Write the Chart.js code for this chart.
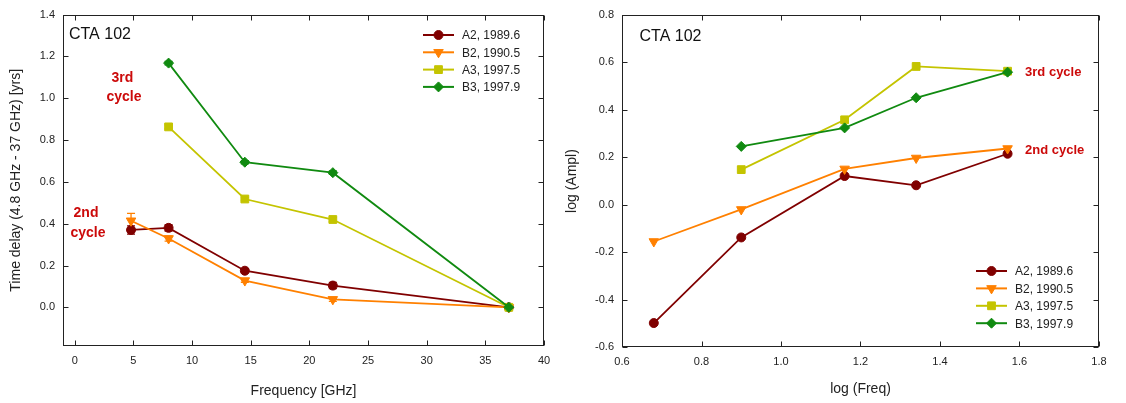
<!DOCTYPE html>
<html>
<head>
<meta charset="utf-8">
<title>CTA 102 time delays</title>
<script src="https://cdn.jsdelivr.net/npm/chart.js@4.4.0/dist/chart.umd.min.js"></script>
<style>
  body { margin: 0; background: #fff; }
  #left { position: absolute; left: 0; top: 0; width: 560px; height: 403px; }
  #right { position: absolute; left: 560px; top: 0; width: 566px; height: 403px; }
</style>
</head>
<body>
<div id="left"><canvas id="delay"></canvas></div>
<div id="right"><canvas id="ampl"></canvas></div>
<script>
// series
const seriesNames = ['A2, 1989.6', 'B2, 1990.5', 'A3, 1997.5', 'B3, 1997.9'];
const freqs = [4.8, 8.0, 14.5, 22, 37];

const delayA2 = [0.370, 0.380, 0.175, 0.104, 0.0];
const delayA2Err = [0.020, 0.015, 0.010, 0.015, 0];
const delayB2 = [0.414, 0.329, 0.128, 0.038, 0.0];
const delayB2Err = [0.035, 0.012, 0.008, 0.010, 0];
const delayA3 = [null, 0.863, 0.518, 0.420, 0.0];
const delayA3Err = [0, 0.010, 0.008, 0.010, 0];
const delayB3 = [null, 1.168, 0.694, 0.644, 0.0];
const delayB3Err = [0, 0.008, 0.008, 0.008, 0];

const logFreq = [0.68, 0.90, 1.16, 1.34, 1.57];
const amplA2 = [-0.499, -0.138, 0.121, 0.082, 0.215];
const amplB2 = [-0.155, -0.020, 0.151, 0.197, 0.237];
const amplA3 = [null, 0.148, 0.358, 0.583, 0.563];
const amplB3 = [null, 0.246, 0.324, 0.451, 0.559];

const delayXTicks = [0, 5, 10, 15, 20, 25, 30, 35, 40];
const delayYTicks = [0.0, 0.2, 0.4, 0.6, 0.8, 1.0, 1.2, 1.4];
const amplXTicks = [0.6, 0.8, 1.0, 1.2, 1.4, 1.6, 1.8];
const amplYTicks = [-0.6, -0.4, -0.2, 0.0, 0.2, 0.4, 0.6, 0.8];

const colors = ['#800000', '#ff8000', '#c4c400', '#108a10'];
const markers = [
  { style: 'circle', radius: 4.5, rotation: 0 },
  { style: 'triangle', radius: 5.5, rotation: 180 },
  { style: 'rect', radius: 5.5, rotation: 0 },
  { style: 'rectRot', radius: 5, rotation: 0 }
];

const FONT = '"Liberation Sans", Arial, Helvetica, sans-serif';
Chart.defaults.font.family = FONT;
Chart.defaults.color = '#222';

function pts(xs, ys, errs) {
  return xs.map((x, i) => ({ x: x, y: ys[i], e: errs ? errs[i] : 0 }))
           .filter(p => p.y !== null);
}

function makeSets(xs, ys, errs) {
  return ys.map((vals, i) => ({
    label: seriesNames[i],
    data: pts(xs, vals, errs ? errs[i] : null),
    borderColor: colors[i],
    backgroundColor: colors[i],
    borderWidth: 1.8,
    pointStyle: markers[i].style,
    pointRadius: markers[i].radius,
    pointHoverRadius: markers[i].radius,
    pointRotation: markers[i].rotation,
    pointBorderWidth: 1,
    order: 3 - i,
    clip: false
  }));
}

// box around the plot with inward ticks on all four sides
const frame = {
  id: 'frame',
  afterDraw(chart) {
    const { ctx, chartArea: a, scales: { x, y } } = chart;
    const L = Math.round(a.left) + 0.5, R = Math.round(a.right) - 0.5;
    const T = Math.round(a.top) + 0.5, B = Math.round(a.bottom) - 0.5;
    ctx.save();
    ctx.strokeStyle = '#222';
    ctx.lineWidth = 1;
    ctx.beginPath();
    x.ticks.forEach(t => {
      const px = Math.round(x.getPixelForValue(t.value)) + 0.5;
      ctx.moveTo(px, B); ctx.lineTo(px, B - 5);
      ctx.moveTo(px, T); ctx.lineTo(px, T + 5);
    });
    y.ticks.forEach(t => {
      const py = Math.round(y.getPixelForValue(t.value)) + 0.5;
      ctx.moveTo(L, py); ctx.lineTo(L + 5, py);
      ctx.moveTo(R, py); ctx.lineTo(R - 5, py);
    });
    ctx.stroke();
    ctx.strokeRect(L, T, R - L, B - T);
    ctx.restore();
  }
};

const errorBars = {
  id: 'errorBars',
  beforeDatasetsDraw(chart) {
    const { ctx, scales: { x, y } } = chart;
    chart.data.datasets.forEach(ds => {
      ctx.save();
      ctx.strokeStyle = ds.borderColor;
      ctx.lineWidth = 1.3;
      ctx.beginPath();
      ds.data.forEach(p => {
        if (!p.e) return;
        const px = x.getPixelForValue(p.x);
        const y1 = y.getPixelForValue(p.y - p.e), y2 = y.getPixelForValue(p.y + p.e);
        ctx.moveTo(px, y1); ctx.lineTo(px, y2);
        ctx.moveTo(px - 4, y1); ctx.lineTo(px + 4, y1);
        ctx.moveTo(px - 4, y2); ctx.lineTo(px + 4, y2);
      });
      ctx.stroke();
      ctx.restore();
    });
  }
};

function drawMarker(ctx, m, x, y) {
  if (Chart.helpers && Chart.helpers.drawPoint) {
    Chart.helpers.drawPoint(ctx, { pointStyle: m.style, radius: m.radius, rotation: m.rotation, borderWidth: 1 }, x, y);
  } else {
    ctx.beginPath(); ctx.arc(x, y, m.radius, 0, Math.PI * 2); ctx.fill(); ctx.stroke();
  }
}

// legend drawn inside the plot, line + marker + label
const keyBox = {
  id: 'keyBox',
  afterDraw(chart, args, opts) {
    const ctx = chart.ctx;
    ctx.save();
    ctx.font = '12px ' + FONT;
    ctx.textBaseline = 'middle';
    ctx.textAlign = 'left';
    chart.data.datasets.forEach((ds, i) => {
      const yy = opts.y + i * opts.step;
      ctx.strokeStyle = ds.borderColor;
      ctx.fillStyle = ds.borderColor;
      ctx.lineWidth = 2;
      ctx.beginPath();
      ctx.moveTo(opts.x, yy); ctx.lineTo(opts.x + 31, yy);
      ctx.stroke();
      ctx.lineWidth = 1;
      drawMarker(ctx, markers[i], opts.x + 15.5, yy);
      ctx.fillStyle = '#222';
      ctx.fillText(ds.label, opts.x + 39, yy + 1);
    });
    ctx.restore();
  }
};

// free text, placed in data coordinates
const notes = {
  id: 'notes',
  afterDraw(chart, args, opts) {
    const { ctx, scales: { x, y } } = chart;
    ctx.save();
    ctx.textBaseline = 'middle';
    opts.items.forEach(n => {
      ctx.font = n.font;
      ctx.fillStyle = n.color;
      ctx.textAlign = n.align;
      ctx.fillText(n.text, x.getPixelForValue(n.x), y.getPixelForValue(n.y));
    });
    ctx.restore();
  }
};

function axis(min, max, tickVals, fmt, fit, title, titlePad) {
  return {
    type: 'linear',
    min: min,
    max: max,
    afterBuildTicks: s => { s.ticks = tickVals.map(v => ({ value: v })); },
    afterFit: fit,
    grid: { display: false, drawTicks: false },
    border: { display: false },
    ticks: { padding: 8, color: '#222', font: { size: 11 }, maxRotation: 0, callback: fmt },
    title: { display: true, text: title, color: '#222', font: { size: 14 }, padding: titlePad }
  };
}

const RED = '#cc0a0a';

new Chart(document.getElementById('delay'), {
  type: 'line',
  data: { datasets: makeSets(freqs, [delayA2, delayB2, delayA3, delayB3], [delayA2Err, delayB2Err, delayA3Err, delayB3Err]) },
  options: {
    responsive: true,
    maintainAspectRatio: false,
    animation: false,
    devicePixelRatio: 1,
    layout: { padding: { left: 0, right: 16, top: 12, bottom: 0 } },
    scales: {
      x: axis(-1, 40, delayXTicks, v => String(v), s => { s.height = 57; }, 'Frequency [GHz]', { top: 0, bottom: 3 }),
      y: axis(-0.185, 1.4, delayYTicks, v => v.toFixed(1), s => { s.width = 63; }, 'Time delay (4.8 GHz - 37 GHz) [yrs]', { top: 8, bottom: 0 })
    },
    plugins: {
      legend: { display: false },
      tooltip: { enabled: false },
      keyBox: { x: 423, y: 35, step: 17.3 },
      notes: {
        items: [
          { text: 'CTA 102', x: -0.49, y: 1.305, font: '16px ' + FONT, color: '#111', align: 'left' },
          { text: '3rd', x: 4.07, y: 1.098, font: 'bold 14px ' + FONT, color: RED, align: 'center' },
          { text: 'cycle', x: 4.2, y: 1.006, font: 'bold 14px ' + FONT, color: RED, align: 'center' },
          { text: '2nd', x: 0.96, y: 0.451, font: 'bold 14px ' + FONT, color: RED, align: 'center' },
          { text: 'cycle', x: 1.13, y: 0.356, font: 'bold 14px ' + FONT, color: RED, align: 'center' }
        ]
      }
    }
  },
  plugins: [errorBars, frame, keyBox, notes]
});

new Chart(document.getElementById('ampl'), {
  type: 'line',
  data: { datasets: makeSets(logFreq, [amplA2, amplB2, amplA3, amplB3], null) },
  options: {
    responsive: true,
    maintainAspectRatio: false,
    animation: false,
    devicePixelRatio: 1,
    layout: { padding: { left: 0, right: 27, top: 15, bottom: 0 } },
    scales: {
      x: axis(0.6, 1.8, amplXTicks, v => v.toFixed(1), s => { s.height = 56; }, 'log (Freq)', { top: 0, bottom: 5 }),
      y: axis(-0.6, 0.8, amplYTicks, v => v.toFixed(1), s => { s.width = 62; }, 'log (Ampl)', { top: 4, bottom: 0 })
    },
    plugins: {
      legend: { display: false },
      tooltip: { enabled: false },
      keyBox: { x: 416, y: 271, step: 17.4 },
      notes: {
        items: [
          { text: 'CTA 102', x: 0.644, y: 0.707, font: '16px ' + FONT, color: '#111', align: 'left' },
          { text: '3rd cycle', x: 1.614, y: 0.559, font: 'bold 13px ' + FONT, color: RED, align: 'left' },
          { text: '2nd cycle', x: 1.614, y: 0.230, font: 'bold 13px ' + FONT, color: RED, align: 'left' }
        ]
      }
    }
  },
  plugins: [errorBars, frame, keyBox, notes]
});
</script>
</body>
</html>
